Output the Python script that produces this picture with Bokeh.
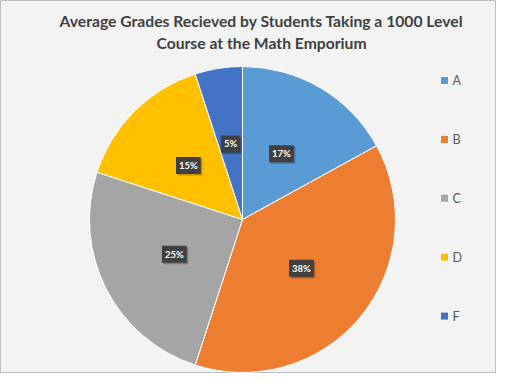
import math
from bokeh.plotting import figure
from bokeh.models import ColumnDataSource, Label, Range1d
from bokeh.core.properties import value
from bokeh.embed import file_html
from bokeh.resources import INLINE

categories = ["A", "B", "C", "D", "F"]
shares = [17, 38, 25, 15, 5]
colors = ["#5B9BD5", "#ED7D31", "#A5A5A5", "#FFC000", "#4472C4"]
title_lines = ["Average Grades Recieved by Students Taking a 1000 Level",
               "Course at the Math Emporium"]

W, H = 496, 373
p = figure(width=W, height=H, output_backend="svg", toolbar_location=None,
           x_range=Range1d(0, W), y_range=Range1d(0, H), min_border=0,
           background_fill_color="#f3f3f3", border_fill_color="#f3f3f3")
p.axis.visible = False
p.grid.visible = False
p.outline_line_color = "#bfbfbf"

cx, cy, R = 242, H - 219, 153
total = sum(shares)
starts, ends, lx, ly, txt = [], [], [], [], []
cum = 0.0
for s in shares:
    a0 = math.pi / 2 - 2 * math.pi * cum / total
    a1 = math.pi / 2 - 2 * math.pi * (cum + s) / total
    starts.append(a1)
    ends.append(a0)
    mid = (a0 + a1) / 2
    lx.append(cx + 0.5 * R * math.cos(mid))
    ly.append(cy + 0.5 * R * math.sin(mid))
    txt.append(f"{s}%")
    cum += s

src = ColumnDataSource(dict(start=starts, end=ends, color=colors, cat=categories,
                            lx=lx, ly=ly, txt=txt,
                            sx=[v + 1.5 for v in lx], sy=[v - 1.5 for v in ly]))
p.wedge(x=cx, y=cy, radius=R, start_angle="start", end_angle="end",
        fill_color="color", line_color="white", line_width=1, source=src)

p.text(x="sx", y="sy", text="txt", source=src, text_align="center",
       text_baseline="middle", text_font=value("Lato"), text_font_size="9.5px",
       text_font_style="bold", text_color="#666666",
       background_fill_color="#000000", background_fill_alpha=0.25, padding=3)
p.text(x="lx", y="ly", text="txt", source=src, text_align="center",
       text_baseline="middle", text_font=value("Lato"), text_font_size="9.5px",
       text_font_style="bold", text_color="white",
       background_fill_color="#404040", padding=3)

# legend
leg_y = [H - 80 - i * 58.9 for i in range(len(categories))]
leg_src = ColumnDataSource(dict(x=[444] * 5, tx=[452] * 5, y=leg_y, color=colors, cat=categories))
p.scatter(x="x", y="y", marker="square", size=7, fill_color="color", line_color=None, source=leg_src)
p.text(x="tx", y="y", text="cat", source=leg_src, text_font=value("Lato"),
       text_font_size="12.5px", text_color="#595959", text_baseline="middle")

for i, t in enumerate(title_lines):
    p.add_layout(Label(x=261, y=H - 20 - i * 22, x_units="screen", y_units="screen",
                       text=t, text_align="center", text_baseline="middle",
                       text_font="Lato", text_font_size="15.7px", text_font_style="bold",
                       text_color="#404040"))

open("out.html", "w").write(file_html(p, INLINE))
